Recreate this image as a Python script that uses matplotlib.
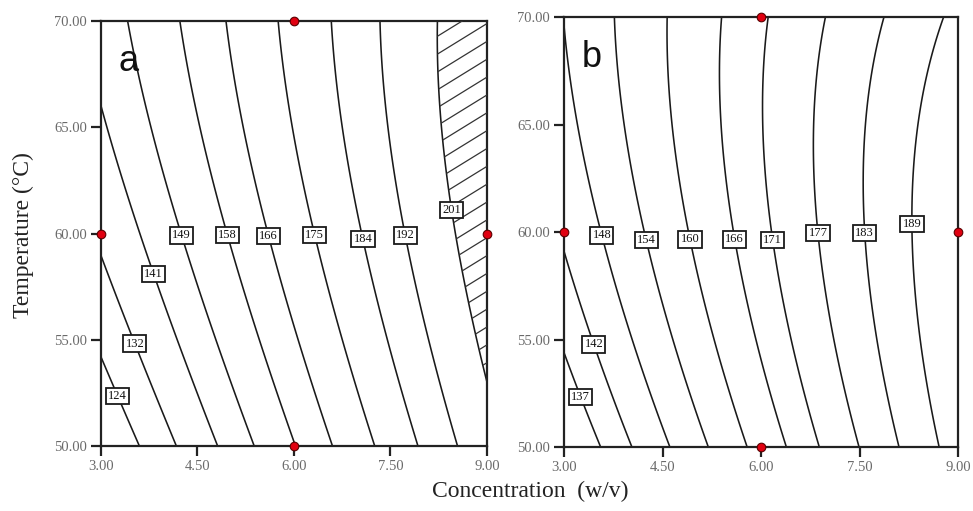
import numpy as np
import matplotlib
matplotlib.use("Agg")
import matplotlib.pyplot as plt
from matplotlib.patches import PathPatch

# ---------------- data ----------------
# Panel a: points lying on the contour lines (concentration, temperature, response)
a_conc = [3.575, 4.181, 4.788, 5.394, 6.016, 6.637, 7.275, 7.912, 8.549,
          3.451, 4.197, 4.974, 5.751, 6.560, 7.368, 8.192,
          3.000, 3.000, 3.000, 9.000,
          3.062, 3.774, 4.484, 5.231, 5.984, 6.721, 7.484, 8.325,
          3.556, 4.164, 4.797, 5.420, 6.071, 6.721, 7.414, 8.108, 8.888,
          3.270, 3.813, 4.275, 4.959, 5.658, 6.326, 7.026, 7.757, 8.425]
a_temp = [50, 50, 50, 50, 50, 50, 50, 50, 50,
          70, 70, 70, 70, 70, 70, 70,
          54.05, 59.13, 65.90, 52.50,
          65.0, 65.0, 65.0, 65.0, 65.0, 65.0, 65.0, 65.0,
          55.0, 55.0, 55.0, 55.0, 55.0, 55.0, 55.0, 55.0, 55.0,
          52.37, 58.09, 59.93, 59.93, 59.93, 59.93, 59.70, 59.93, 61.10]
a_resp = [124, 132, 141, 149, 158, 166, 175, 184, 192,
          149, 158, 166, 175, 184, 192, 201,
          124, 132, 141, 201,
          141, 149, 158, 166, 175, 184, 192, 201,
          132, 141, 149, 158, 166, 175, 184, 192, 201,
          124, 141, 149, 158, 166, 175, 184, 192, 201]
a_levels = [124, 132, 141, 149, 158, 166, 175, 184, 192, 201]
a_label_conc = [3.270, 3.556, 3.813, 4.275, 4.959, 5.658, 6.326, 7.026, 7.757, 8.425]
a_label_temp = [52.37, 54.86, 58.09, 59.93, 59.93, 59.93, 59.93, 59.70, 59.93, 61.10]

# Panel b
b_conc = [3.518, 4.081, 4.629, 5.193, 5.756, 6.335, 6.914, 7.507, 8.101, 8.726,
          3.015, 3.792, 4.553, 5.345, 6.137, 6.990, 7.858, 8.756,
          3.000, 3.000,
          3.180, 3.909, 4.623, 5.353, 6.091, 6.857, 7.622, 8.411,
          4.080, 4.706, 5.299, 5.863, 6.487, 7.127, 7.736, 8.421,
          3.254, 3.498, 3.599, 4.259, 4.878, 5.538, 6.198, 6.873, 7.558, 8.258]
b_temp = [50, 50, 50, 50, 50, 50, 50, 50, 50, 50,
          70, 70, 70, 70, 70, 70, 70, 70,
          53.9, 59.16,
          64.88, 64.88, 64.88, 64.88, 64.88, 64.88, 64.88, 64.88,
          55.0, 55.0, 55.0, 55.0, 55.0, 55.0, 55.0, 55.0,
          52.34, 54.82, 59.86, 59.63, 59.63, 59.63, 59.63, 59.95, 59.95, 60.37]
b_resp = [137, 142, 148, 154, 160, 166, 171, 177, 183, 189,
          148, 154, 160, 166, 171, 177, 183, 189,
          137, 142,
          148, 154, 160, 166, 171, 177, 183, 189,
          148, 154, 160, 166, 171, 177, 183, 189,
          137, 142, 148, 154, 160, 166, 171, 177, 183, 189]
b_levels = [137, 142, 148, 154, 160, 166, 171, 177, 183, 189]
b_label_conc = [3.254, 3.498, 3.599, 4.259, 4.878, 5.538, 6.198, 6.873, 7.558, 8.258]
b_label_temp = [52.34, 54.82, 59.86, 59.63, 59.63, 59.63, 59.63, 59.95, 59.95, 60.37]

# design points (red dots)
design_conc = [3.0, 6.0, 6.0, 9.0]
design_temp = [60.0, 70.0, 50.0, 60.0]

x_ticks = [3.0, 4.5, 6.0, 7.5, 9.0]
y_ticks = [50.0, 55.0, 60.0, 65.0, 70.0]
hatch_level = 201

# ---------------- surface from the read points (cubic least squares) ----------------
def terms(x, t):
    A = (np.asarray(x, float) - 6.0) / 3.0
    B = (np.asarray(t, float) - 60.0) / 10.0
    return np.stack([np.ones_like(A), A, B, A*A, A*B, B*B, A**3, A*A*B, A*B*B, B**3], axis=-1)

def surface(xs, ts, zs, X, T):
    coef, *_ = np.linalg.lstsq(terms(xs, ts), np.asarray(zs, float), rcond=None)
    return terms(X, T) @ coef

xg = np.linspace(3, 9, 241)
tg = np.linspace(50, 70, 241)
X, T = np.meshgrid(xg, tg)
Za = surface(a_conc, a_temp, a_resp, X, T)
Zb = surface(b_conc, b_temp, b_resp, X, T)

# ---------------- figure ----------------
serif = ["Liberation Serif", "DejaVu Serif"]
fig = plt.figure(figsize=(9.73, 5.11), dpi=100)
ax_a = fig.add_axes([0.1038, 0.1272, 0.3967, 0.8317])
ax_b = fig.add_axes([0.5797, 0.1252, 0.4049, 0.8415])

def style(ax):
    ax.set_xlim(3, 9)
    ax.set_ylim(50, 70)
    ax.set_xticks(x_ticks)
    ax.set_yticks(y_ticks)
    ax.set_xticklabels([f"{v:.2f}" for v in x_ticks])
    ax.set_yticklabels([f"{v:.2f}" for v in y_ticks])
    for lab in ax.get_xticklabels() + ax.get_yticklabels():
        lab.set_fontfamily(serif)
        lab.set_fontsize(10.5)
        lab.set_color("#6a6a6a")
    ax.tick_params(direction="out", length=7, width=1.6, color="#222222", pad=3)
    for sp in ax.spines.values():
        sp.set_linewidth(1.6)
        sp.set_color("#222222")

def draw(ax, Z, levels, lx, ly, letter):
    cs = ax.contour(X, T, Z, levels=levels, colors="#1a1a1a", linewidths=1.15)
    labels = ax.clabel(cs, levels, inline=False, fontsize=9,
                       fmt={lv: str(lv) for lv in levels},
                       manual=list(zip(lx, ly)))
    for tx in labels:
        tx.set_rotation(0)
        tx.set_fontfamily(serif)
        tx.set_color("#111111")
        tx.set_bbox(dict(boxstyle="square,pad=0.18", fc="white", ec="#1a1a1a", lw=1.3))
        tx.set_zorder(6)
    ax.plot(design_conc, design_temp, "o", ms=6.2, mfc="#e00010", mec="#5a0000",
            mew=0.8, clip_on=False, zorder=8)
    ax.text(0.045, 0.905, letter, transform=ax.transAxes, fontsize=26,
            family=["Liberation Sans", "DejaVu Sans"], color="#111111", va="center")
    style(ax)

draw(ax_a, Za, a_levels, a_label_conc, a_label_temp, "a")
draw(ax_b, Zb, b_levels, b_label_conc, b_label_temp, "b")

# hatched region of panel a (response above the top level)
cf = ax_a.contourf(X, T, Za, levels=[hatch_level, Za.max() + 1], colors="none")
clip = PathPatch(cf.get_paths()[0], transform=ax_a.transData, fc="none", ec="none")
ax_a.add_patch(clip)
for c in np.arange(-0.7, 1.05, 0.042):
    ln, = ax_a.plot([0, 1], [c, c + 0.56], transform=ax_a.transAxes,
                    color="#333333", lw=0.9, zorder=3)
    ln.set_clip_path(clip)

fig.text(0.545, 0.038, "Concentration  (w/v)", ha="center", va="center",
         family=serif, fontsize=17, color="#222222")
fig.text(0.024, 0.54, "Temperature (°C)", ha="center", va="center", rotation=90,
         family=serif, fontsize=17, color="#222222")

fig.savefig("out.png", dpi=100)
